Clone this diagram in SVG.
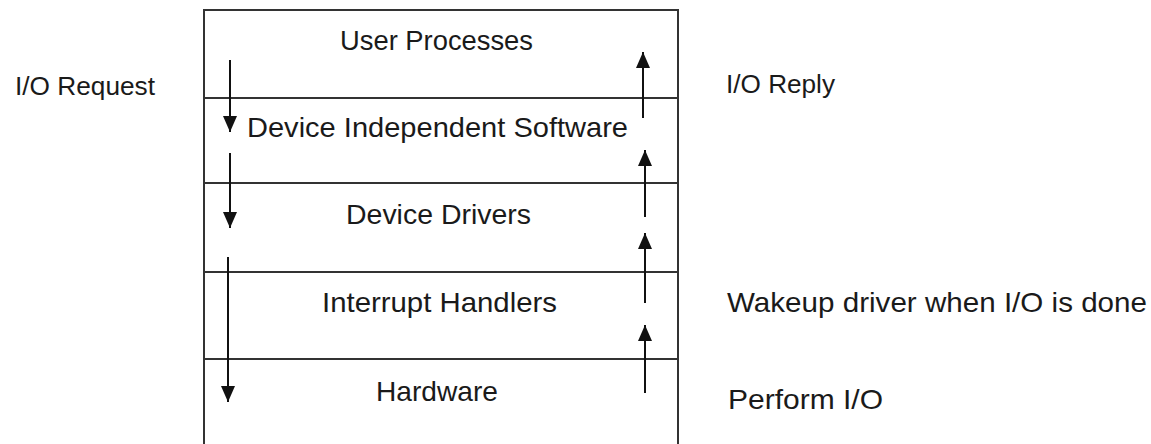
<svg xmlns="http://www.w3.org/2000/svg" width="1151" height="444" viewBox="0 0 1151 444">
  <style>
    .layer { fill: #ffffff; stroke: #333333; stroke-width: 2; }
    .t { font-family: "Liberation Sans", Arial, sans-serif; font-size: 28px; fill: #1a1a1a; }
    .s { font-family: "Liberation Sans", Arial, sans-serif; font-size: 26px; fill: #1a1a1a; }
    .arrow { stroke: #111111; stroke-width: 2; fill: none; marker-end: url(#head); }
  </style>
  <defs>
    <marker id="head" markerUnits="userSpaceOnUse" markerWidth="16" markerHeight="14" refX="16" refY="7" orient="auto">
      <path d="M0,0 L16,7 L0,14 z" fill="#111111"/>
    </marker>
  </defs>
  <rect width="1151" height="444" fill="#ffffff"/>

  <g id="user-processes">
    <rect class="layer" x="204" y="10" width="474" height="88"/>
    <text class="t" x="340" y="50" textLength="193" lengthAdjust="spacingAndGlyphs">User Processes</text>
  </g>
  <g id="device-independent-software">
    <rect class="layer" x="204" y="98" width="474" height="85"/>
    <text class="t" x="247" y="137" textLength="381" lengthAdjust="spacingAndGlyphs">Device Independent Software</text>
  </g>
  <g id="device-drivers">
    <rect class="layer" x="204" y="183" width="474" height="89"/>
    <text class="t" x="346" y="224" textLength="185" lengthAdjust="spacingAndGlyphs">Device Drivers</text>
  </g>
  <g id="interrupt-handlers">
    <rect class="layer" x="204" y="272" width="474" height="87"/>
    <text class="t" x="322" y="312" textLength="235" lengthAdjust="spacingAndGlyphs">Interrupt Handlers</text>
  </g>
  <g id="hardware">
    <rect class="layer" x="204" y="359" width="474" height="100"/>
    <text class="t" x="376" y="401" textLength="122" lengthAdjust="spacingAndGlyphs">Hardware</text>
  </g>

  <g id="connectors">
    <line class="arrow" x1="230" y1="60" x2="230" y2="132"/>
    <line class="arrow" x1="230" y1="153" x2="230" y2="228"/>
    <line class="arrow" x1="228" y1="257" x2="228" y2="402"/>
    <line class="arrow" x1="643" y1="118" x2="643" y2="52"/>
    <line class="arrow" x1="645" y1="217" x2="645" y2="150"/>
    <line class="arrow" x1="645" y1="303" x2="645" y2="233"/>
    <line class="arrow" x1="645" y1="393" x2="645" y2="325"/>
  </g>

  <g id="labels">
    <text class="s" x="15" y="95" textLength="140" lengthAdjust="spacingAndGlyphs">I/O Request</text>
    <text class="s" x="726" y="93" textLength="109" lengthAdjust="spacingAndGlyphs">I/O Reply</text>
    <text class="t" x="727" y="312" textLength="420" lengthAdjust="spacingAndGlyphs">Wakeup driver when I/O is done</text>
    <text class="t" x="728" y="409" textLength="155" lengthAdjust="spacingAndGlyphs">Perform I/O</text>
  </g>
</svg>
